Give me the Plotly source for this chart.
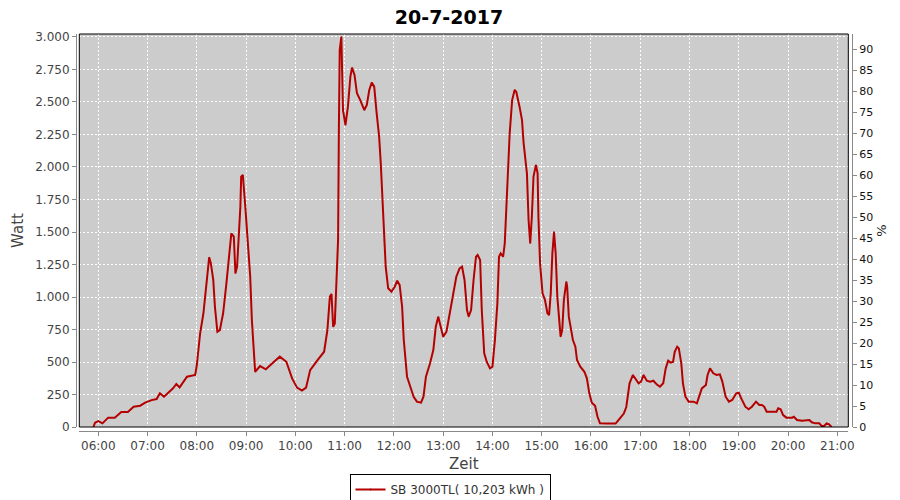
import plotly.graph_objects as go

DATE = "2017-07-20"
TITLE = "20-7-2017"
SERIES_NAME = "SB 3000TL( 10,203 kWh )"

times = [
    "05:54", "05:56", "06:00", "06:05", "06:12", "06:20", "06:28", "06:36", "06:43", "06:51",
    "06:57", "07:05", "07:11", "07:15", "07:20", "07:25", "07:31", "07:35", "07:39", "07:48",
    "07:58", "08:00", "08:04", "08:08", "08:11", "08:15", "08:17", "08:20", "08:22", "08:25",
    "08:28", "08:32", "08:36", "08:40", "08:42", "08:45", "08:47", "08:49", "08:53", "08:54",
    "08:56", "08:59", "09:02", "09:05", "09:07", "09:10", "09:11", "09:17", "09:24", "09:34",
    "09:41", "09:49", "09:56", "10:02", "10:08", "10:13", "10:18", "10:27", "10:35", "10:39",
    "10:42", "10:44", "10:46", "10:48", "10:50", "10:52", "10:53", "10:54", "10:56", "10:57",
    "10:58", "11:01", "11:04", "11:07", "11:09", "11:12", "11:15", "11:19", "11:24", "11:27",
    "11:30", "11:33", "11:36", "11:39", "11:42", "11:44", "11:46", "11:48", "11:50", "11:53",
    "11:57", "12:01", "12:04", "12:07", "12:10", "12:12", "12:16", "12:20", "12:24", "12:28",
    "12:33", "12:36", "12:39", "12:44", "12:48", "12:51", "12:54", "12:57", "13:00", "13:04",
    "13:08", "13:12", "13:16", "13:20", "13:23", "13:26", "13:29", "13:31", "13:34", "13:37",
    "13:40", "13:42", "13:45", "13:47", "13:50", "13:53", "13:57", "14:00", "14:03", "14:06",
    "14:08", "14:10", "14:13", "14:15", "14:17", "14:19", "14:21", "14:24", "14:27", "14:29",
    "14:33", "14:36", "14:38", "14:42", "14:44", "14:46", "14:48", "14:50", "14:53", "14:55",
    "14:56", "14:58", "15:01", "15:04", "15:07", "15:09", "15:11", "15:13", "15:15", "15:17",
    "15:19", "15:21", "15:23", "15:25", "15:27", "15:30", "15:31", "15:33", "15:36", "15:38",
    "15:41", "15:43", "15:47", "15:52", "15:55", "15:58", "16:01", "16:05", "16:08", "16:11",
    "16:19", "16:30", "16:35", "16:40", "16:43", "16:45", "16:47", "16:51", "16:53", "16:58",
    "17:01", "17:04", "17:08", "17:12", "17:16", "17:20", "17:24", "17:28", "17:31", "17:34",
    "17:37", "17:40", "17:42", "17:45", "17:47", "17:50", "17:52", "17:55", "17:59", "18:05",
    "18:09", "18:12", "18:15", "18:20", "18:22", "18:25", "18:29", "18:33", "18:37", "18:40",
    "18:44", "18:48", "18:52", "18:57", "19:00", "19:03", "19:08", "19:12", "19:16", "19:21",
    "19:25", "19:28", "19:31", "19:34", "19:42", "19:46", "19:48", "19:51", "19:54", "19:58",
    "20:05", "20:07", "20:11", "20:17", "20:26", "20:29", "20:33", "20:38", "20:41", "20:44",
    "20:47", "20:50", "20:53",
]

watts = [
    0, 33, 45, 28, 72, 72, 115, 115, 156, 164,
    187, 207, 215, 259, 233, 264, 298, 331, 305, 387,
    400, 477, 721, 875, 1079, 1305, 1260, 1131, 925, 733,
    745, 875, 1105, 1336, 1490, 1464, 1182, 1233, 1695, 1926,
    1938, 1695, 1387, 1156, 823, 567, 425, 469, 444, 502,
    541, 502, 374, 303, 280, 303, 438, 515, 579, 746,
    1003, 1023, 771, 797, 1079, 1438, 2310, 2900, 3002, 2746,
    2438, 2323, 2464, 2695, 2764, 2708, 2567, 2515, 2438, 2477,
    2592, 2649, 2618, 2413, 2233, 2028, 1746, 1438, 1233, 1067,
    1041, 1079, 1125, 1092, 925, 669, 387, 310, 233, 195,
    187, 233, 387, 490, 592, 772, 849, 772, 695, 733,
    875, 1028, 1156, 1220, 1233, 1131, 900, 849, 900, 1131,
    1310, 1323, 1284, 900, 567, 502, 451, 464, 669, 951,
    1310, 1336, 1310, 1413, 1644, 1977, 2259, 2515, 2592, 2579,
    2464, 2361, 2182, 1951, 1592, 1413, 1618, 1926, 2015, 1951,
    1618, 1259, 1028, 977, 875, 862, 1028, 1336, 1502, 1336,
    1003, 823, 695, 746, 977, 1118, 1079, 849, 746, 669,
    618, 515, 464, 425, 374, 259, 187, 164, 79, 28,
    26, 26, 64, 103, 154, 259, 336, 400, 382, 336,
    349, 400, 356, 349, 356, 328, 310, 336, 451, 510,
    495, 502, 579, 618, 605, 490, 336, 233, 195, 195,
    182, 246, 297, 323, 400, 451, 413, 400, 405, 349,
    233, 195, 208, 259, 264, 220, 156, 136, 156, 195,
    169, 169, 156, 118, 118, 118, 144, 136, 92, 72,
    72, 79, 54, 49, 54, 36, 28, 28, 8, 8,
    28, 20, 0,
]

watt_ticks = [0, 250, 500, 750, 1000, 1250, 1500, 1750, 2000, 2250, 2500, 2750, 3000]
watt_labels = ["0", "250", "500", "750", "1.000", "1.250", "1.500", "1.750",
               "2.000", "2.250", "2.500", "2.750", "3.000"]
pct_ticks = list(range(0, 95, 5))
hour_ticks = ["06:00", "07:00", "08:00", "09:00", "10:00", "11:00", "12:00", "13:00",
              "14:00", "15:00", "16:00", "17:00", "18:00", "19:00", "20:00", "21:00"]

x = [f"{DATE} {t}" for t in times]

FONT = "DejaVu Sans"
# The page body keeps an 8px margin, so the figure is sized 892x492 to fill the 900x500 window.
W, H = 892, 492
fig = go.Figure()
fig.add_trace(go.Scatter(
    x=x, y=watts, mode="lines+markers", name=SERIES_NAME,
    line=dict(color="#b40000", width=2),
    marker=dict(size=1, color="#b40000"),
))
fig.add_trace(go.Scatter(x=[None], y=[None], yaxis="y2", showlegend=False, hoverinfo="skip"))

fig.update_layout(
    width=W, height=H,
    paper_bgcolor="white", plot_bgcolor="#cccccc",
    margin=dict(l=68, r=48, t=26, b=69, autoexpand=False),
    title=dict(text=f"<b>{TITLE}</b>", x=441 / W, xanchor="center", y=1 - 9 / H, yanchor="middle",
               font=dict(family=FONT, size=19, color="black"), automargin=False),
    font=dict(family=FONT, size=12, color="#444444"),
    xaxis=dict(
        type="date", domain=[3.3 / 776, 772.3 / 776], anchor="free", position=0,
        range=[f"{DATE} 05:36:50", f"{DATE} 21:13:24"],
        tickvals=[f"{DATE} {h}" for h in hour_ticks], ticktext=hour_ticks,
        showgrid=True, gridcolor="white", griddash="2px,2px", gridwidth=1,
        showline=True, linecolor="#888888", linewidth=1,
        ticks="outside", ticklen=4, tickcolor="#888888",
        tickfont=dict(family=FONT, size=12, color="#444444"),
        title=dict(text="Zeit", font=dict(family=FONT, size=15, color="#444444"), standoff=6),
        zeroline=False, automargin=False,
    ),
    yaxis=dict(
        domain=[4 / 397, 1], anchor="free", position=0,
        range=[0, 3023],
        tickvals=watt_ticks, ticktext=watt_labels,
        showgrid=True, gridcolor="white", griddash="2px,2px", gridwidth=1,
        showline=True, linecolor="#888888", linewidth=1,
        ticks="outside", ticklen=4, tickcolor="#888888",
        tickfont=dict(family=FONT, size=12, color="#444444"),
        title=dict(text="Watt", font=dict(family=FONT, size=15, color="#444444"), standoff=6),
        zeroline=False, automargin=False,
    ),
    yaxis2=dict(
        overlaying="y", side="right", anchor="free", position=1,
        range=[0, 93.7], tickvals=pct_ticks,
        showgrid=False, showline=True, linecolor="#888888", linewidth=1,
        ticks="outside", ticklen=4, tickcolor="#888888",
        tickfont=dict(family=FONT, size=11, color="#111111"),
        title=dict(text="%", font=dict(family=FONT, size=13, color="#222222"), standoff=4),
        zeroline=False, automargin=False,
    ),
    legend=dict(
        orientation="h", x=(450 - 76) / 776, xanchor="center", y=(431 - 474) / 397, yanchor="top",
        bordercolor="black", borderwidth=1, bgcolor="white",
        font=dict(family=FONT, size=12, color="#333333"),
        itemwidth=30,
    ),
    showlegend=True,
)

fig.add_shape(type="rect", xref="x domain", yref="y domain", x0=0, x1=1, y0=0, y1=1,
              line=dict(color="black", width=1), fillcolor="rgba(0,0,0,0)", layer="above")

fig.write_html("out.html")
